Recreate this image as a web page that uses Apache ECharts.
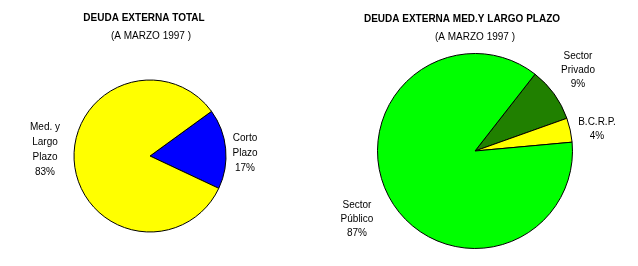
<!DOCTYPE html>
<html>
<head>
<meta charset="utf-8">
<script src="https://cdn.jsdelivr.net/npm/echarts@6/dist/echarts.min.js"></script>
<style>
html,body{margin:0;padding:0;background:#fff;}
#c{width:638px;height:266px;}
</style>
</head>
<body>
<div id="c"></div>
<script>
// Data
var leftTitle = 'DEUDA EXTERNA TOTAL';
var rightTitle = 'DEUDA EXTERNA MED.Y LARGO PLAZO';
var subTitle = '(A MARZO 1997 )';
var leftNames = ['Corto\nPlazo', 'Med. y\nLargo\nPlazo'];
var leftValues = [17, 83];
var rightNames = ['Sector\nPrivado', 'B.C.R.P.', 'Sector\nPúblico'];
var rightValues = [9, 4, 87];

// Styles
var leftColors = ['#0000ff', '#ffff00'];
var rightColors = ['#208000', '#ffff00', '#00ff00'];
var leftLabelPos = [[245, 153], [45, 150]];
var rightLabelPos = [[578, 70], [597, 129], [357, 219]];
var FONT = 'Liberation Sans, Arial, sans-serif';

function mk(names, values, colors) {
  return names.map(function (n, i) {
    return { name: n, value: values[i], itemStyle: { color: colors[i] } };
  });
}

var chart = echarts.init(document.getElementById('c'), null, { renderer: 'canvas' });
var labelBase = {
  show: true,
  position: 'outside',
  formatter: function (p) { return p.name + '\n' + p.value + '%'; },
  fontFamily: FONT,
  fontSize: 10,
  color: '#000'
};
chart.setOption({
  animation: false,
  backgroundColor: '#ffffff',
  title: [
    { text: leftTitle, left: 144, top: 13, textAlign: 'center', padding: 0,
      textStyle: { fontFamily: FONT, fontSize: 10, fontWeight: 'bold', color: '#000' } },
    { text: subTitle, left: 151, top: 31, textAlign: 'center', padding: 0,
      textStyle: { fontFamily: FONT, fontSize: 10, fontWeight: 'normal', color: '#000' } },
    { text: rightTitle, left: 462, top: 14, textAlign: 'center', padding: 0,
      textStyle: { fontFamily: FONT, fontSize: 10, fontWeight: 'bold', color: '#000' } },
    { text: subTitle, left: 475, top: 32, textAlign: 'center', padding: 0,
      textStyle: { fontFamily: FONT, fontSize: 10, fontWeight: 'normal', color: '#000' } }
  ],
  series: [
    {
      type: 'pie',
      center: [150, 156],
      radius: [0, 76],
      startAngle: 36,
      clockwise: true,
      avoidLabelOverlap: false,
      itemStyle: { borderColor: '#000', borderWidth: 1 },
      label: Object.assign({}, labelBase, { lineHeight: 15 }),
      labelLine: { show: false },
      labelLayout: function (p) {
        var pos = leftLabelPos[p.dataIndex];
        return { x: pos[0], y: pos[1], align: 'center', verticalAlign: 'middle' };
      },
      emphasis: { disabled: true },
      data: mk(leftNames, leftValues, leftColors)
    },
    {
      type: 'pie',
      center: [475, 151],
      radius: [0, 97.5],
      startAngle: 52,
      clockwise: true,
      avoidLabelOverlap: false,
      itemStyle: { borderColor: '#000', borderWidth: 1 },
      label: Object.assign({}, labelBase, { lineHeight: 14 }),
      labelLine: { show: false },
      labelLayout: function (p) {
        var pos = rightLabelPos[p.dataIndex];
        return { x: pos[0], y: pos[1], align: 'center', verticalAlign: 'middle' };
      },
      emphasis: { disabled: true },
      data: mk(rightNames, rightValues, rightColors)
    }
  ]
});
</script>
</body>
</html>
